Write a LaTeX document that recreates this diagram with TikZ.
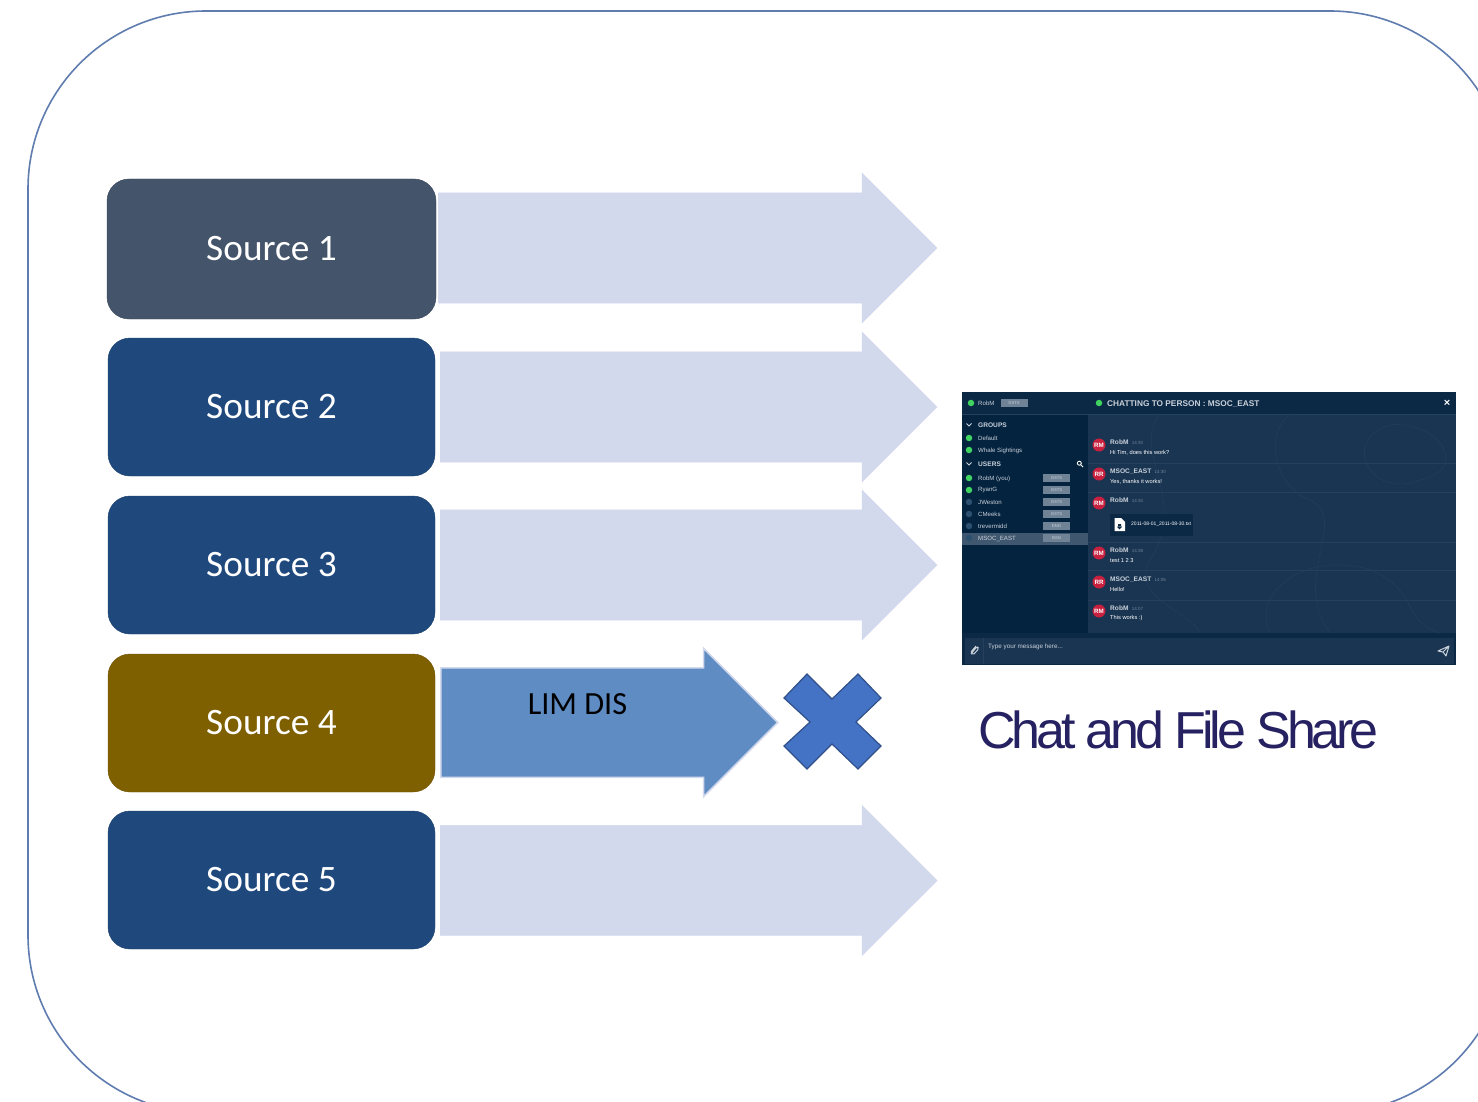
\documentclass[tikz,border=0pt]{standalone}
\usepackage{fontspec}
\setmainfont{Carlito}
\newfontfamily\uifont{Liberation Sans}
\usetikzlibrary{positioning,
        shapes.arrows}
\definecolor{panelcol}{HTML}{1A3552}
\definecolor{sidecol}{HTML}{04233F}
\definecolor{barcol}{HTML}{0B2845}
\definecolor{uigrey}{HTML}{C9D1DA}
\definecolor{contourcol}{HTML}{24405E}
\definecolor{arrowlight}{HTML}{D3D9EC}
\definecolor{arrowblue}{HTML}{5F8CC3}
\definecolor{crosscol}{HTML}{4472C4}
\definecolor{badgecol}{HTML}{6F8296}
\definecolor{avatarcol}{HTML}{C8203F}
\definecolor{onlinecol}{HTML}{3FD45F}
\definecolor{offlinecol}{HTML}{2C5070}
\definecolor{framecol}{HTML}{5F7CAF}
\definecolor{titlecol}{HTML}{262262}
\definecolor{slatecol}{HTML}{44546A}
\definecolor{navycol}{HTML}{1F497D}
\definecolor{ochrecol}{HTML}{7F6000}
\tikzset{
    sourcebox/.style={rounded corners=22pt,draw=#1!85!black,fill=#1,text=white,minimum width=327pt,minimum height=138pt,font=\fontsize{37.3}{42}\selectfont},
    flowarrow/.style={single arrow,anchor=tail,inner sep=0pt,single arrow tip angle=90,single arrow head indent=0pt,text height=110pt,text depth=0pt,single arrow head extend=20pt,minimum height=497pt,fill=arrowlight,draw=arrowlight},
    dot/.style={circle,inner sep=0pt,minimum size=6.5pt,fill=#1},
    uitext/.style={anchor=west,inner sep=0pt,text=uigrey,font=\uifont\fontsize{6.1}{7}\selectfont},
    uibold/.style={uitext,font=\uifont\bfseries\fontsize{6.6}{7}\selectfont},
    badge/.style={inner sep=0pt,minimum width=27pt,minimum height=8pt,fill=badgecol,text=uigrey!70!badgecol,font=\uifont\bfseries\fontsize{4.2}{5}\selectfont},
    avatar/.style={circle,inner sep=0pt,minimum size=13pt,fill=avatarcol,text=white,font=\uifont\bfseries\fontsize{6.2}{7}\selectfont},
    rowline/.style={draw=contourcol,line width=0.8pt}
}
\begin{document}
\begin{tikzpicture}[x=1pt,y=-1pt]
            \useasboundingbox (0,0) rectangle (1478,1102);
            \clip (0,0) rectangle (1478,1102);
            \draw [framecol, line width=1.6pt, rounded corners=178pt] (28,11) rectangle (1508,1113);

            % sources and their arrows
            \node [sourcebox=slatecol,minimum width=329pt,minimum height=140pt] (source1) at (271.5,249) {\raisebox{1pt}{Source 1}};
            \node [sourcebox=navycol] (source2) at (271.5,407) {\raisebox{1pt}{Source 2}};
            \node [sourcebox=navycol] (source3) at (271.5,565) {\raisebox{1pt}{Source 3}};
            \node [sourcebox=ochrecol] (source4) at (271.5,723) {\raisebox{1pt}{Source 4}};
            \node [sourcebox=navycol] (source5) at (271.5,880) {\raisebox{1pt}{Source 5}};

            \node [flowarrow,minimum height=499pt] (arrow1) at (438,248) {};
            \node [flowarrow] (arrow2) at (440,407) {};
            \node [flowarrow] (arrow3) at (440,565) {};
            \node [flowarrow] (arrow5) at (440,880.5) {};
            \node [flowarrow,fill=arrowblue,line width=1.5pt,text height=108pt,single arrow head extend=19.5pt,minimum height=337pt] (arrow4) at (440,722.5) {};
            \node [inner sep=0pt,font=\fontsize{32.3}{38}\selectfont] (limdis) at (577.5,704) {LIM DIS};

            \draw [fill=crosscol, draw=crosscol!70!black, line width=1.2pt] (807,674) -- (832,699) -- (858,674) -- (881,698) -- (856,722) -- (881,746) -- (858,769) -- (832,744) -- (807,769) -- (784,746) -- (810,722) -- (784,698) -- cycle;

            \node [inner sep=0pt,text=titlecol,font=\uifont\fontsize{52}{60}\selectfont] (title) at (1178.5,730) {\addfontfeature{LetterSpace=-7.9}Chat and File Share};

            % chat window
            \fill [panelcol] (1088,392) rectangle (1456,665);
            \begin{scope}
                \clip (1088,414) rectangle (1456,633);
                \draw [contourcol] (1160,414) .. controls (1130,450) and (1190,500) .. (1150,560) .. controls (1130,600) and (1190,610) .. (1200,633);
                \draw [contourcol] (1290,414) .. controls (1260,440) and (1280,490) .. (1310,500) .. controls (1350,520) and (1290,580) .. (1330,633);
                \draw [contourcol] (1390,425) .. controls (1340,440) and (1370,500) .. (1420,480) .. controls (1470,470) and (1440,420) .. (1390,425);
                \draw [contourcol] (1270,633) .. controls (1250,590) and (1310,550) .. (1370,570) .. controls (1420,590) and (1400,620) .. (1440,633);
            \end{scope}
            \fill [sidecol] (962,392) rectangle (1088,665);
            \fill [barcol] (962,392) rectangle (1456,414);
            \fill [barcol] (962,633) rectangle (1456,665);
            \fill [panelcol] (965,638) rectangle (1454,664);
            \draw [contourcol] (983,638) -- (983,664);
            \fill [badgecol!55!sidecol] (962,533) rectangle (1088,545);
            \draw [rowline] (962,414) -- (1456,414);
            \foreach \y in {463,492,542,570,600}
                \draw [rowline] (1088,\y) -- (1456,\y);

            \node [dot=onlinecol] (me) at (971,403) {};
            \node [uitext] (melabel) at (978,403.5) {RobM};
            \node [badge] (mebadge) at (1014,403) {GSTS};
            \node [dot=onlinecol] (peer) at (1099,403) {};
            \node [uibold,font=\uifont\bfseries\fontsize{8.3}{9}\selectfont] (peerlabel) at (1107,404) {CHATTING TO PERSON : MSOC\_EAST};
            \node [uitext,text=white,font=\uifont\bfseries\fontsize{11}{12}\selectfont,anchor=center] (closex) at (1447,403) {×};

            \node [uibold,text=uigrey] (groups) at (978,425) {GROUPS};
            \node [uibold,text=uigrey] (users) at (978,464) {USERS};
            \draw [uigrey, line width=1pt] (966.5,423.5) -- (969,426) -- (971.5,423.5);
            \draw [uigrey, line width=1pt] (966.5,462.5) -- (969,465) -- (971.5,462.5);
            \draw [white, line width=0.9pt] (1079.3,463.2) circle (2pt) (1080.7,464.6) -- (1083,467);

            \foreach \y/\name in {438/Default,450/Whale Sightings}{
                \node [dot=onlinecol] at (969,\y) {};
                \node [uitext] at (978,\y.5) {\name};
            }
            \foreach \y/\name/\state/\col in {478/RobM (you)/GSTS/onlinecol,490/RyanG/GSTS/onlinecol,502/JWeston/GSTS/offlinecol,514/CMeeks/GSTS/offlinecol,526/trevermidd/DND/offlinecol,538/MSOC\_EAST/BSN/offlinecol}{
                \node [dot=\col] at (969,\y) {};
                \node [uitext] at (978,\y.5) {\name};
                \node [badge] at (1056.5,\y) {\state};
            }

            % messages
            \foreach \y/\who/\name/\stamp/\msg in {445/RM/RobM/14:30/{Hi Tim, does this work?},474/RR/MSOC\_EAST/14:30/{Yes, thanks it works!},553/RM/RobM/14:38/{test 1 2 3},582/RR/MSOC\_EAST/14:06/{Hello!},611/RM/RobM/14:07/{This works :)}}{
                \node [avatar] at (1099,\y) {\who};
                \node [uibold] (nm) at (1110,\y-2.5) {\name};
                \node [uitext,text=badgecol,font=\uifont\fontsize{4.5}{5}\selectfont,right=3pt of nm] {\stamp};
                \node [uitext,text=white,font=\uifont\fontsize{5.7}{6}\selectfont] at (1110,\y+7.5) {\msg};
            }
            \node [avatar] (fileavatar) at (1099,503) {RM};
            \node [uibold] (filename) at (1110,500.5) {RobM};
            \node [uitext,text=badgecol,font=\uifont\fontsize{4.5}{5}\selectfont,right=3pt of filename] (filestamp) {14:30};
            \fill [barcol] (1110,514) rectangle (1193,536);
            \fill [white] (1114.5,518) -- (1121,518) -- (1125,522) -- (1125,531) -- (1114.5,531) -- cycle;
            \fill [barcol] (1118,524) rectangle (1121,527) (1116.8,526.5) -- (1122.2,526.5) -- (1119.5,529.5) -- cycle;
            \node [uitext,text=white,font=\uifont\fontsize{5}{6}\selectfont] (filelabel) at (1131,524.5) {2011-08-01\_2011-08-30.txt};

            % message line
            \node [uitext,font=\uifont\fontsize{6.3}{7}\selectfont] (typehere) at (988,646.5) {Type your message here...};
            \draw [uigrey, line width=1pt, rounded corners=1.5pt] (971,654) -- (977,646.5) -- (979,648.5) -- (973,655) -- (970.5,652.5) -- (976,646);
            \draw [uigrey, line width=1pt, line join=round] (1438,651) -- (1449,646) -- (1446,656) -- (1443,652) -- cycle (1443,652) -- (1449,646);
        \end{tikzpicture}
\end{document}
